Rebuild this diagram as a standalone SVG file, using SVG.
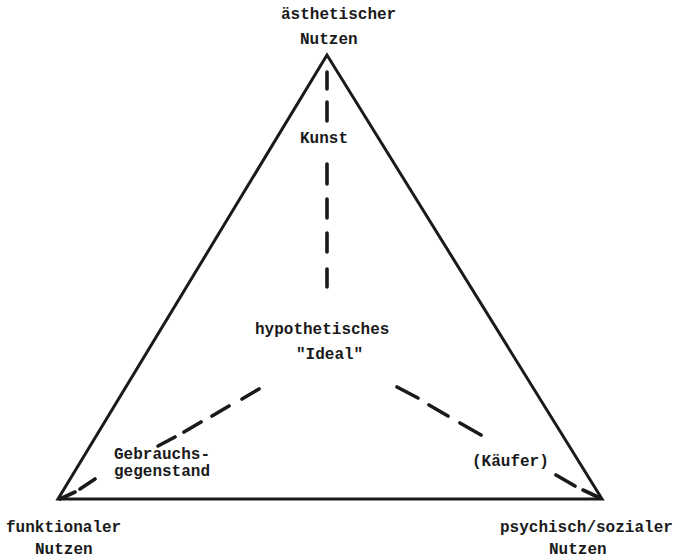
<svg xmlns="http://www.w3.org/2000/svg" width="678" height="559" viewBox="0 0 678 559">
<style>
.t{font-family:"Liberation Mono","DejaVu Sans Mono",monospace;font-size:16px;font-weight:bold;fill:#1a1a1a}
.edge{fill:none;stroke:#1a1a1a;stroke-width:3;stroke-linejoin:miter;stroke-linecap:round}
.dash{fill:none;stroke:#1a1a1a;stroke-width:3.6;stroke-linecap:round}
</style>
<rect width="678" height="559" fill="#ffffff"/>
<g id="connectors">
<path class="edge" d="M327,55 L58,499 L602,499 Z"/>
<path class="dash" d="M327,72 L327,89 M327,102 L327,121 M327,164 L327,184 M327,199 L327,218 M327,233 L327,252 M327,269 L327,287"/>
<path class="dash" d="M259,389 L242,399 M229,406 L212,416 M201,422 L184,432 M175,437 L158,446 M95,479 L80,489 M75,492 L60,499"/>
<path class="dash" d="M397,387 L418,398 M429,405 L448,416 M460,423 L481,435 M556,475 L575,486 M583,490 L600,498"/>
</g>
<g id="node-aesthetisch">
<text class="t" x="281" y="19">ästhetischer</text>
<text class="t" x="300" y="44">Nutzen</text>
</g>
<g id="node-kunst">
<text class="t" x="300" y="143">Kunst</text>
</g>
<g id="node-ideal">
<text class="t" x="255" y="334">hypothetisches</text>
<text class="t" x="296" y="359">"Ideal"</text>
</g>
<g id="node-gebrauch">
<text class="t" x="114" y="459">Gebrauchs-</text>
<text class="t" x="114" y="476">gegenstand</text>
</g>
<g id="node-kaeufer">
<text class="t" x="472" y="466">(Käufer)</text>
</g>
<g id="node-funktional">
<text class="t" x="6" y="532">funktionaler</text>
<text class="t" x="35" y="554">Nutzen</text>
</g>
<g id="node-psychisch">
<text class="t" x="500" y="532">psychisch/sozialer</text>
<text class="t" x="549" y="554">Nutzen</text>
</g>
</svg>
